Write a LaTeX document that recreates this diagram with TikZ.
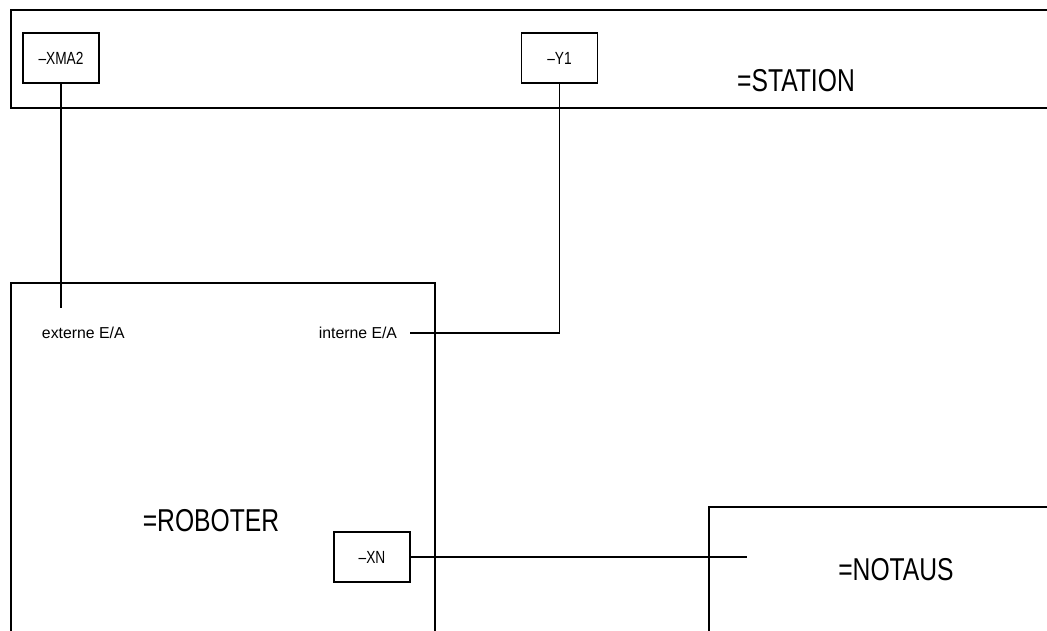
\documentclass[tikz,border=0pt]{standalone}
\usepackage{fontspec}
\setmainfont{Liberation Sans}[FakeStretch=0.78]
\newfontfamily\portfont{Liberation Sans}
\begin{document}
\begin{tikzpicture}
[x=0.02cm, y=-0.02cm, line width=1.1pt,
tag/.style={rectangle, draw, inner sep=0pt, minimum width=1.52cm, minimum height=1.0cm, font=\fontsize{10}{11}\selectfont},
port/.style={inner sep=0pt, font=\portfont\fontsize{9}{10}\selectfont},
title/.style={inner sep=0pt, font=\fontsize{18}{20}\selectfont}]

\useasboundingbox (0,0) rectangle (1047,631);
\clip (0,0) rectangle (1047,631);

% function blocks
\draw (11,10) rectangle (1070,108);
\draw (11,283) rectangle (435,660);
\draw (709,507) rectangle (1070,660);

\node[title] (station) at (796,81) {=STATION};
\node[title] (roboter) at (211,521) {=ROBOTER};
\node[title] (notaus) at (896,570) {=NOTAUS};

% devices
\node[tag] (xma2) at (61,58) {--XMA2};
\node[tag] (y1) at (559.5,58) {--Y1};
\node[tag] (xn) at (372,557) {--XN};

\node[port, anchor=west] (extern) at (41,333) {externe E/A};
\node[port, anchor=east] (intern) at (398,333) {interne E/A};

\coordinate (extE) at (61,308);
\coordinate (intE) at (410,333);
\coordinate (notE) at (747,557);

% connections
\draw (xma2.south) -- (extE);
\draw (y1.south) |- (intE);
\draw (xn.east) -- (notE);

\end{tikzpicture}
\end{document}
